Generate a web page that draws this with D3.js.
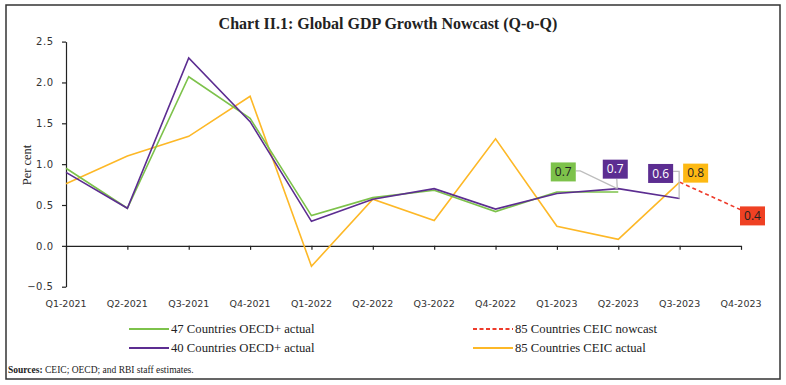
<!DOCTYPE html>
<html><head><meta charset="utf-8">
<script src="https://cdn.jsdelivr.net/npm/d3@7"></script>
<style>
html,body{margin:0;padding:0;background:#fff;}
svg{display:block;}
</style></head>
<body>
<svg id="chart" width="786" height="385"></svg>
<script>
const quarters = ["Q1-2021","Q2-2021","Q3-2021","Q4-2021","Q1-2022","Q2-2022","Q3-2022","Q4-2022","Q1-2023","Q2-2023","Q3-2023","Q4-2023"];
const oecd47Actual = [0.95, 0.46, 2.07, 1.56, 0.37, 0.59, 0.68, 0.42, 0.66, 0.66, null, null];
const oecd40Actual = [0.90, 0.46, 2.30, 1.52, 0.30, 0.57, 0.70, 0.45, 0.64, 0.70, 0.58, null];
const ceicActual   = [0.76, 1.10, 1.34, 1.83, -0.25, 0.57, 0.31, 1.31, 0.24, 0.08, 0.78, null];
const ceicNowcast  = [null, null, null, null, null, null, null, null, null, null, 0.78, 0.44];
const yTicks = [-0.5, 0.0, 0.5, 1.0, 1.5, 2.0, 2.5];
const titleText = "Chart II.1: Global GDP Growth Nowcast (Q-o-Q)";
const yTitle = "Per cent";
const sourceLabel = "Sources:";
const sourceText = " CEIC; OECD; and RBI staff estimates.";

const C_GREEN = "#7DC24B", C_PURPLE = "#5C2D91", C_YELLOW = "#FDB827", C_RED = "#EE3B2B";
const svg = d3.select("#chart");

svg.append("rect").attr("x", 6).attr("y", 5).attr("width", 774).attr("height", 374)
  .attr("fill", "#fff").attr("stroke", "#333").attr("stroke-width", 1.5);

const title = svg.append("text").attr("x", 388).attr("y", 29).attr("text-anchor", "middle")
  .attr("font-family", "'Liberation Serif','DejaVu Serif',serif").attr("font-weight", "bold")
  .attr("font-size", 15).attr("fill", "#222").text(titleText);
{
  const w = title.node().getComputedTextLength();
  title.attr("font-size", 15 * 339 / w);
}

const x = d3.scalePoint().domain(quarters).range([66, 741]);
const y = d3.scaleLinear().domain([-0.5, 2.5]).range([286.7, 41.6]);

const yAxis = svg.append("g").attr("transform", "translate(66,0)")
  .call(d3.axisLeft(y).tickValues(yTicks).tickFormat(d3.format(".1f")).tickSize(4).tickPadding(8.5).tickSizeOuter(0));
yAxis.select(".domain").attr("stroke", "#222").attr("stroke-width", 1.2);
yAxis.selectAll(".tick line").attr("stroke", "#222").attr("stroke-width", 1.2);
yAxis.selectAll(".tick text").attr("font-family", "'DejaVu Sans',sans-serif").attr("font-size", 10)
  .attr("letter-spacing", 0.5).attr("fill", "#333");

const xAxis = svg.append("g").attr("transform", `translate(0,${y(0)})`)
  .call(d3.axisBottom(x).tickSize(4).tickSizeOuter(0).tickFormat(""));
xAxis.select(".domain").attr("stroke", "#222").attr("stroke-width", 1.2);
xAxis.selectAll(".tick line").attr("stroke", "#222").attr("stroke-width", 1.2);

svg.append("g").selectAll("text").data(quarters).join("text")
  .attr("x", d => x(d)).attr("y", 306.5).attr("text-anchor", "middle")
  .attr("font-family", "'DejaVu Sans',sans-serif").attr("font-size", 9.5).attr("fill", "#333")
  .text(d => d);

svg.append("text").attr("transform", "translate(31,165) rotate(-90)").attr("text-anchor", "middle")
  .attr("font-family", "'Liberation Serif','DejaVu Serif',serif").attr("font-size", 12.5).attr("fill", "#222")
  .text(yTitle);

const line = d3.line().defined(d => d.v != null).x(d => x(d.q)).y(d => y(d.v));
function series(vals) { return quarters.map((q, i) => ({ q, v: vals[i] })); }
function drawLine(vals, color, dash) {
  svg.append("path").datum(series(vals)).attr("d", line).attr("fill", "none")
    .attr("stroke", color).attr("stroke-width", 1.6).attr("stroke-linejoin", "miter")
    .attr("stroke-dasharray", dash || null);
}
drawLine(ceicNowcast, C_RED, "4,3");
drawLine(ceicActual, C_YELLOW);
drawLine(oecd47Actual, C_GREEN);
drawLine(oecd40Actual, C_PURPLE);

const fmt = d3.format(".1f");
function lastIdx(vals) { let k = -1; vals.forEach((v, i) => { if (v != null) k = i; }); return k; }
const leader = "#BDBDBD";
function label(vals, color, textColor, dx, dy, leaderPts) {
  const i = lastIdx(vals);
  const px = x(quarters[i]), py = y(vals[i]);
  const cx = px + dx, cy = py + dy, w = 25, h = 19;
  if (leaderPts) {
    svg.append("path").attr("d", d3.line()(leaderPts.map(p => [px + p[0], py + p[1]])))
      .attr("fill", "none").attr("stroke", leader).attr("stroke-width", 1.3);
  }
  svg.append("rect").attr("x", cx - w / 2).attr("y", cy - h / 2).attr("width", w).attr("height", h).attr("fill", color);
  svg.append("text").attr("x", cx).attr("y", cy + 4.3).attr("text-anchor", "middle")
    .attr("font-family", "'Open Sans','Liberation Sans',sans-serif").attr("font-size", 12)
    .attr("fill", textColor).text(fmt(vals[i]));
}
label(oecd47Actual, C_GREEN, "#222", -55, -20, [[-42.5, -21], [-38, -21], [-1.5, -3.5]]);
label(oecd40Actual.slice(0, 10), C_PURPLE, "#fff", -3, -19.5, [[-1.5, -10], [-1, 0]]);
label(oecd40Actual, C_PURPLE, "#fff", -19, -25, [[-6.5, -27], [-0.5, -27], [-0.5, 0]]);
label(ceicActual, "#FDB913", "#222", 16, -9, null);
label(ceicNowcast, "#EF4123", "#222", 11.5, 6, null);

const legendItems = [
  { name: "47 Countries OECD+ actual", color: C_GREEN, dash: null, x: 129, y: 329 },
  { name: "40 Countries OECD+ actual", color: C_PURPLE, dash: null, x: 129, y: 348 },
  { name: "85 Countries CEIC nowcast", color: C_RED, dash: "4,2.5", x: 473, y: 329 },
  { name: "85 Countries CEIC actual", color: C_YELLOW, dash: null, x: 473, y: 348 }
];
const lg = svg.append("g").selectAll("g").data(legendItems).join("g");
lg.append("line").attr("x1", d => d.x).attr("x2", d => d.x + 40).attr("y1", d => d.y).attr("y2", d => d.y)
  .attr("stroke", d => d.color).attr("stroke-width", 2).attr("stroke-dasharray", d => d.dash);
lg.append("text").attr("x", d => d.x + 42).attr("y", d => d.y + 4)
  .attr("font-family", "'Liberation Serif','DejaVu Serif',serif").attr("font-size", 12.7).attr("fill", "#222")
  .text(d => d.name);

const src = svg.append("text").attr("x", 8).attr("y", 372.5)
  .attr("font-family", "'Liberation Serif','DejaVu Serif',serif").attr("font-size", 9.5).attr("fill", "#222");
src.append("tspan").attr("font-weight", "bold").text(sourceLabel);
src.append("tspan").text(sourceText);
</script>
</body></html>
